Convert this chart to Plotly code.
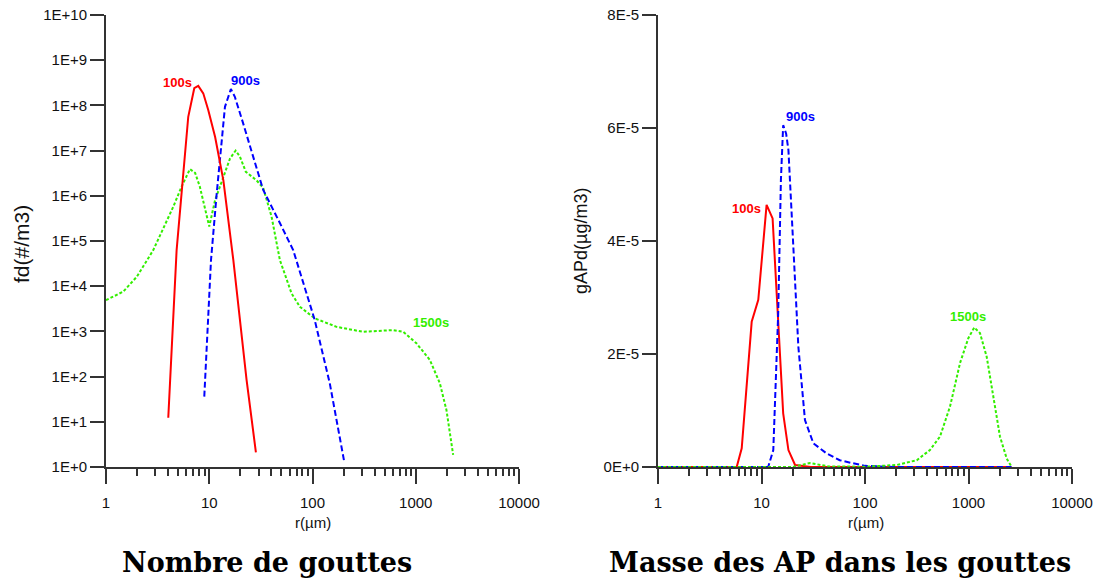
import plotly.graph_objects as go

W, H = 1108, 583

# ---------------- data: left panel (number distribution fd, #/m3) ----------------
r_100_fd = [4.01, 4.83, 6.26, 7.16, 7.83, 8.75, 9.78, 11.4, 13.7, 17.1, 23.0, 28.3]
fd_100 = [12.3, 6.3e4, 5.6e7, 2.4e8, 2.7e8, 1.85e8, 7.9e7, 2.0e7, 2.2e6, 3.8e4, 84, 2.1]

r_900_fd = [8.95, 10.4, 11.8, 13.2, 14.2, 16.2, 17.7, 21.3, 26.7, 33.3, 48.3, 65, 105, 147, 203]
fd_900 = [36, 3.8e4, 1.1e6, 2.0e7, 9.3e7, 2.3e8, 1.55e8, 4.0e7, 7.3e6, 1.35e6, 2.5e5, 6.3e4, 1.8e3, 71, 1.3]

r_1500_fd = [1.0, 1.47, 1.98, 2.87, 4.48, 5.4, 6.5, 7.3, 8.1, 10.0, 11.4, 13.7, 15.9, 18.0, 19.8,
             22.6, 28.7, 33.3, 40.1, 48.3, 52, 62.7, 75.5, 105, 171, 309, 604, 755, 1016, 1370,
             1712, 1985, 2303]
fd_1500 = [4.9e3, 7.6e3, 1.6e4, 6.3e4, 5.7e5, 1.6e6, 3.9e6, 3.2e6, 1.6e6, 2.1e5, 8.1e5, 2.7e6, 6.7e6,
           1.0e7, 7.4e6, 3.4e6, 2.2e6, 1.5e6, 3.5e5, 3.8e4, 2.3e4, 6.9e3, 3.5e3, 1.95e3, 1.26e3, 980,
           1.07e3, 980, 545, 234, 71, 18, 1.85]

# ---------------- data: right panel (AP mass gAPd, ug/m3) ----------------
r_100_g = [1.0, 5.76, 6.44, 8.04, 9.31, 11.2, 12.8, 14.5, 16.2, 18.2, 21.1, 30, 100, 1000, 2600]
g_100 = [0, 0, 0.33e-5, 2.57e-5, 2.96e-5, 4.64e-5, 4.40e-5, 2.54e-5, 0.95e-5, 0.30e-5, 0.035e-5,
         0.0, 0, 0, 0]

r_900_g = [1.0, 11.6, 13.0, 14.5, 15.4, 16.2, 17.3, 18.2, 20.3, 22.7, 26.3, 31.7, 42.6, 57, 77, 100,
           200, 1000, 2600]
g_900 = [0, 0, 0.30e-5, 2.72e-5, 5.08e-5, 6.05e-5, 5.9e-5, 5.61e-5, 3.9e-5, 2.13e-5, 0.83e-5,
         0.42e-5, 0.24e-5, 0.12e-5, 0.065e-5, 0.02e-5, 0.0, 0, 0]

r_1500_g = [1.0, 20, 29.4, 45, 100, 202, 316, 424, 531, 663, 828, 996, 1137, 1291, 1499, 1738, 2014,
            2339, 2614]
g_1500 = [0, 0, 0.07e-5, 0.01e-5, 0.005e-5, 0.035e-5, 0.12e-5, 0.30e-5, 0.54e-5, 1.07e-5, 1.84e-5,
          2.28e-5, 2.47e-5, 2.37e-5, 1.95e-5, 1.24e-5, 0.54e-5, 0.15e-5, 0]

fd_tickvals = [10 ** k for k in range(0, 11)]
fd_ticktext = ["1E+%d" % k for k in range(0, 11)]
g_tickvals = [0, 2e-5, 4e-5, 6e-5, 8e-5]
g_ticktext = ["0E+0", "2E-5", "4E-5", "6E-5", "8E-5"]

RED, BLUE, GREEN = "#ff0000", "#0000ff", "#33ee00"
AX = "#333333"
FONT = "Liberation Sans, Arial, sans-serif"

fig = go.Figure()

def add(x, y, color, dash, xa, ya):
    fig.add_trace(go.Scatter(x=x, y=y, mode="lines", xaxis=xa, yaxis=ya, showlegend=False,
                             line=dict(color=color, width=2, dash=dash), hoverinfo="skip"))

add(r_1500_fd, fd_1500, GREEN, "3px,2px", "x", "y")
add(r_900_fd, fd_900, BLUE, "6px,3px", "x", "y")
add(r_100_fd, fd_100, RED, "solid", "x", "y")

add(r_100_g, g_100, RED, "solid", "x2", "y2")
add(r_900_g, g_900, BLUE, "6px,3px", "x2", "y2")
add(r_1500_g, g_1500, GREEN, "3px,2px", "x2", "y2")

def px(x):
    return x / W

def py(y):
    return 1 - y / H

ydom = [py(467), py(15)]

xcommon = dict(type="log", range=[0, 4], showline=True, linecolor=AX, linewidth=2,
               ticks="outside", ticklen=15, tickwidth=2, tickcolor=AX, tickmode="linear",
               tick0=0, dtick=1, tickformat="d", showgrid=False, zeroline=False,
               automargin=False, ticklabelstandoff=6,
               minor=dict(ticks="outside", ticklen=7, tickwidth=1.5, tickcolor=AX, showgrid=False),
               tickfont=dict(family=FONT, size=15, color="#111"))
ycommon = dict(showline=True, linecolor=AX, linewidth=2, ticks="outside", ticklen=14,
               tickwidth=2, tickcolor=AX, showgrid=False, zeroline=False, automargin=False,
               tickmode="array", tickfont=dict(family=FONT, size=15, color="#111"))

fig.update_layout(
    width=W, height=H, margin=dict(l=0, r=0, t=0, b=0),
    paper_bgcolor="white", plot_bgcolor="white",
    xaxis=dict(domain=[px(106), px(519)], anchor="y", **xcommon),
    yaxis=dict(domain=ydom, anchor="x", type="log", range=[0, 10],
               tickvals=fd_tickvals, ticktext=fd_ticktext, **ycommon),
    xaxis2=dict(domain=[px(658), px(1072)], anchor="y2", **xcommon),
    yaxis2=dict(domain=ydom, anchor="x2", type="linear", range=[0, 8e-5],
                tickvals=g_tickvals, ticktext=g_ticktext, **ycommon),
)

def label(text, x, y, color, size=13, bold=True, family=FONT, angle=0):
    t = "<b>%s</b>" % text if bold else text
    fig.add_annotation(text=t, x=px(x), y=py(y), xref="paper", yref="paper",
                       showarrow=False, xanchor="center", yanchor="middle", textangle=angle,
                       font=dict(family=family, size=size, color=color))

# curve labels
label("100s", 177.5, 82, RED)
label("900s", 245.5, 81, BLUE)
label("1500s", 431, 322.5, GREEN)
label("100s", 746.5, 208, RED)
label("900s", 800.5, 116, BLUE)
label("1500s", 967.5, 316, GREEN)

# axis titles
label("fd(#/m3)", 22, 244, "#111", size=21, bold=False, angle=-90)
label("gAPd(µg/m3)", 581, 241, "#111", size=18, bold=False, angle=-90)
label("r(µm)", 313, 522, "#111", size=15, bold=False)
label("r(µm)", 866, 522, "#111", size=15, bold=False)

# panel captions
label("Nombre de gouttes", 267, 562, "#000", size=27, bold=True, family="DejaVu Serif, serif")
label("Masse des AP dans les gouttes", 840, 562, "#000", size=27, bold=True,
      family="DejaVu Serif, serif")

fig.write_html("out.html", config={"displayModeBar": False},
               post_script="document.body.style.margin='0';document.body.style.overflow='hidden';")
